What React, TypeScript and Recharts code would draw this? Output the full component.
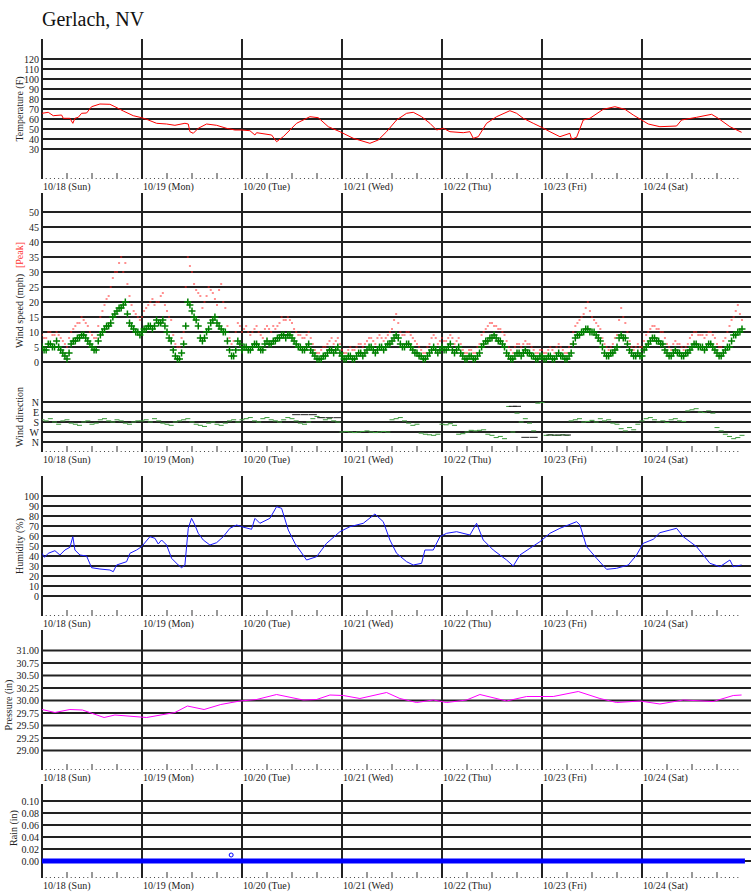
import React from 'react';
import { ComposedChart, Line, Scatter, XAxis, YAxis, ReferenceLine } from 'recharts';

const SERIF = '"Liberation Serif", "DejaVu Serif", "Times New Roman", serif';
const X_MAX = 170.16; // hours shown across the 709px plot width

// day columns
const dayLabels = ['10/18 (Sun)', '10/19 (Mon)', '10/20 (Tue)', '10/21 (Wed)', '10/22 (Thu)', '10/23 (Fri)', '10/24 (Sat)'];
const dayStarts = [0, 24, 48, 72, 96, 120, 144];
const hourTicks = Array.from({ length: 168 }, (_, i) => i);

// y ticks
const tempTicks = [30, 40, 50, 60, 70, 80, 90, 100, 110, 120];
const windTicks = [0, 5, 10, 15, 20, 25, 30, 35, 40, 45, 50];
const dirTickPos = [-13.3333, -16.6667, -20, -23.3333, -26.6667];
const dirTickLabels = ['N', 'E', 'S', 'W', 'N'];
const humTicks = [0, 10, 20, 30, 40, 50, 60, 70, 80, 90, 100];
const pressTicks = [29.0, 29.25, 29.5, 29.75, 30.0, 30.25, 30.5, 30.75, 31.0];
const rainTicks = [0, 0.02, 0.04, 0.06, 0.08, 0.1];

// [hour since 10/18 00:00, value]
const temperature: [number, number][] = [
  [0, 65.7], [1.5, 66.7], [2.7, 63.3], [4.7, 64], [5.1, 60.7], [6.7, 60.7], [7.4, 55.7], [7.9, 60.7], [8.7, 61.7],
  [9.5, 65.7], [10.7, 66], [11.9, 72.3], [13.9, 75], [16.3, 74.7], [17.5, 72.3], [19.5, 68], [21.9, 63.3], [23.9, 61.3],
  [25.1, 59.7], [27.5, 55.7], [29.9, 55], [31.9, 53.7], [34.3, 55.7], [35.1, 55], [35.5, 47.3], [36.3, 45.7], [37.5, 50.7],
  [39.5, 55], [41.9, 53.7], [44.3, 50.7], [46.3, 49], [47.9, 49], [49.9, 48.3], [51.1, 44], [51.5, 46.3], [55.1, 44],
  [56.3, 37.3], [57.9, 42.3], [61.1, 55.7], [64.3, 62.3], [66.3, 61.3], [68.7, 52.3], [71.5, 47.3], [74.7, 40.7],
  [78.7, 35.7], [80.7, 39], [82.7, 47.3], [85.1, 59], [87.5, 65.7], [89.1, 66.7], [91.1, 62.3], [93.1, 55.7], [94.7, 49],
  [96.3, 50.7], [97.9, 47.3], [101.1, 46.3], [102.7, 47.3], [103.5, 40.7], [104.7, 42.3], [106.7, 55.7], [109.1, 62.3],
  [112.3, 68.3], [113.9, 65.7], [115.5, 60.7], [117.9, 55.7], [119.9, 51.7], [121.9, 47.3], [124.3, 42.3], [126.7, 45.7],
  [127.1, 39.7], [128.3, 41.7], [129.9, 59], [131.5, 60.7], [134.7, 69.7], [137.5, 72.3], [139.9, 69.7], [141.9, 64],
  [143.9, 59], [145.5, 55], [148.3, 52.3], [152.3, 53], [153.5, 59], [157.1, 61.7], [160.7, 64.7], [162.3, 60.7],
  [165.1, 52.3], [167.9, 46.7],
];

const humidity: [number, number][] = [
  [0, 42.7], [0.6, 38.7], [1.5, 42.7], [3.1, 45.3], [4.3, 41], [5.5, 46], [6.7, 48.7], [7.4, 59.3], [7.9, 46], [9.1, 41],
  [10.7, 40], [11.9, 28.3], [13.9, 27], [16.3, 26], [17.1, 24.3], [17.9, 31], [20.3, 34.3], [21.1, 42.7], [22.7, 46],
  [23.9, 49.3], [25.9, 59.3], [27.1, 57.7], [27.9, 52], [28.7, 56], [29.9, 51], [31.1, 37.7], [32.7, 31], [33.5, 28.3],
  [34.3, 31], [35.1, 67.7], [35.9, 77.7], [36.7, 71], [37.5, 62.7], [38.7, 56], [40.3, 51], [41.9, 53.3], [43.5, 59.3],
  [45.1, 67.7], [46.7, 71], [47.9, 69.3], [50.3, 66.7], [51.1, 77.7], [52.3, 72.7], [54.7, 77.7], [56.3, 89.3],
  [57.5, 87.7], [59.1, 66], [60.7, 52.7], [63.5, 36], [65.9, 39.3], [68.3, 52.7], [71.5, 64.3], [73.9, 69.3],
  [77.1, 72.7], [79.9, 82], [81.9, 74.3], [83.5, 56], [85.1, 42.7], [87.5, 34.3], [89.1, 31], [91.1, 32.7], [91.9, 46],
  [93.9, 46], [95.5, 59.3], [97.1, 62.7], [99.5, 64.3], [102.7, 61], [104.3, 72.7], [105.9, 56], [108.3, 46],
  [111.5, 36], [113.1, 30], [114.7, 41], [117.1, 47.7], [119.5, 54.3], [121.9, 62.7], [124.3, 67.7], [128.3, 74.3],
  [129.1, 71], [130.7, 49.3], [133.1, 37.7], [135.5, 26.7], [137.9, 27.7], [140.7, 31], [142.7, 41], [144.3, 52.7],
  [146.7, 56.7], [148.3, 63.3], [152.3, 67.7], [153.9, 59.3], [157.1, 49.3], [160.3, 32.7], [162.7, 29.3], [165.1, 36],
  [165.9, 29.3], [167.9, 31],
];

const pressure: [number, number][] = [
  [0, 29.82], [3.1, 29.76], [6.7, 29.82], [9.7, 29.81], [14.9, 29.66], [17.5, 29.71], [25.1, 29.66], [31.9, 29.76],
  [34.9, 29.89], [38.9, 29.82], [42.9, 29.92], [47.5, 29.99], [51.5, 30.02], [56.3, 30.12], [62.7, 30.01], [65.9, 30.02],
  [69.1, 30.11], [72.3, 30.1], [76.3, 30.04], [82.7, 30.16], [85.9, 30.04], [89.9, 29.96], [93.9, 30.01], [97.1, 29.96],
  [101.9, 30.01], [105.1, 30.12], [111.5, 29.99], [116.3, 30.08], [122.7, 30.08], [128.7, 30.18], [133.9, 30.04],
  [137.9, 29.96], [143.5, 29.99], [148.3, 29.93], [153.9, 30.01], [161.1, 29.98], [165.9, 30.1], [167.9, 30.11],
];

// hourly wind, hour 0 .. 168
const windAvg = [
  5, 4, 6, 5, 5, 3, 1, 6, 7, 8, 9, 7, 5, 4, 9, 11, 12, 15, 17, 18, 20, 13, 11, 10,
  10, 11, 12, 12, 13, 14, 10, 7, 2, 1, 6, 20, 17, 14, 8, 8, 11, 14, 13, 11, 10, 4, 2, 7,
  4, 5, 4, 6, 5, 4, 7, 6, 7, 8, 9, 9, 8, 6, 5, 4, 6, 3, 1, 1, 2, 4, 3, 5,
  2, 1, 2, 1, 3, 2, 4, 5, 3, 5, 4, 6, 7, 9, 6, 5, 6, 4, 3, 2, 1, 3, 5, 3,
  5, 4, 6, 3, 5, 2, 1, 2, 1, 3, 6, 7, 8, 8, 7, 5, 2, 1, 3, 2, 4, 3, 2, 1,
  2, 1, 2, 1, 3, 2, 1, 3, 8, 9, 10, 11, 10, 9, 7, 3, 2, 3, 5, 9, 8, 4, 2, 3,
  2, 5, 7, 8, 7, 6, 3, 2, 4, 3, 2, 3, 5, 6, 5, 4, 6, 5, 3, 2, 4, 5, 9, 10, 11,
];
// readings taken on the half hour, hour 0.5 .. 167.5
const windAvgHalf = [
  4, 6, 5, 7, 4, 2, 3, 7, 8, 9, 8, 6, 4, 7, 10, 12, 13, 16, 18, 19, 16, 12, 10, 9,
  11, 12, 11, 14, 13, 12, 8, 4, 1, 3, 12, 19, 15, 12, 7, 10, 13, 15, 12, 10, 7, 2, 4, 6,
  5, 4, 5, 6, 4, 6, 6, 7, 8, 9, 8, 9, 7, 5, 4, 5, 4, 2, 1, 2, 3, 4, 4, 3,
  1, 2, 1, 2, 3, 3, 5, 4, 4, 5, 5, 6, 8, 8, 5, 6, 5, 3, 2, 1, 2, 4, 4, 4,
  4, 5, 4, 4, 3, 1, 2, 1, 2, 5, 7, 8, 9, 7, 6, 3, 1, 2, 3, 3, 3, 2, 1, 2,
  1, 2, 1, 2, 2, 1, 2, 6, 9, 10, 11, 10, 10, 8, 5, 2, 3, 4, 8, 8, 6, 3, 2, 2,
  4, 6, 8, 7, 6, 4, 2, 3, 3, 2, 3, 4, 6, 5, 5, 5, 6, 4, 2, 3, 5, 7, 9, 10,
];
const windPeak = [
  9, 8, 10, 9, 9, 7, 5, 10, 12, 13, 14, 12, 9, 8, 15, 19, 22, 28, 30, 35, 33, 22, 17, 15,
  15, 18, 20, 19, 20, 23, 17, 14, 6, 5, 10, 35, 30, 24, 22, 20, 25, 23, 19, 26, 18, 8, 7, 13,
  10, 12, 9, 11, 10, 8, 12, 10, 11, 13, 14, 15, 13, 10, 9, 8, 10, 6, 3, 4, 5, 7, 6, 8,
  4, 3, 5, 4, 6, 5, 7, 8, 6, 9, 7, 9, 11, 16, 10, 9, 10, 8, 6, 4, 3, 6, 9, 6,
  8, 7, 9, 6, 8, 4, 3, 4, 3, 6, 10, 12, 13, 12, 11, 9, 5, 3, 6, 5, 7, 6, 4, 3,
  4, 3, 5, 3, 6, 4, 3, 6, 12, 14, 16, 20, 15, 13, 11, 6, 4, 6, 9, 18, 13, 7, 4, 6,
  5, 9, 11, 12, 11, 10, 6, 4, 7, 6, 4, 6, 9, 10, 9, 8, 10, 9, 6, 5, 8, 12, 15, 19, 14,
];
const windPeakHalf = [
  8, 10, 9, 10, 8, 6, 8, 11, 13, 15, 13, 10, 8, 12, 17, 21, 25, 30, 33, 30, 26, 19, 16, 14,
  17, 19, 21, 20, 22, 19, 15, 9, 5, 8, 25, 32, 26, 23, 18, 22, 24, 21, 24, 20, 12, 6, 10, 12,
  11, 10, 10, 12, 9, 11, 11, 12, 12, 15, 14, 14, 11, 9, 8, 9, 8, 4, 3, 5, 6, 8, 7, 6,
  3, 4, 4, 5, 6, 6, 8, 7, 8, 8, 8, 10, 14, 13, 9, 10, 9, 7, 5, 3, 5, 8, 8, 7,
  7, 8, 8, 7, 6, 3, 4, 3, 5, 9, 11, 13, 12, 11, 10, 7, 4, 5, 6, 6, 6, 5, 3, 4,
  3, 4, 4, 5, 5, 3, 5, 10, 13, 15, 18, 17, 14, 12, 8, 5, 5, 8, 14, 15, 10, 5, 5, 5,
  7, 10, 12, 11, 10, 8, 5, 6, 6, 5, 5, 8, 10, 9, 9, 9, 10, 8, 5, 7, 10, 14, 17, 16,
];
// hourly wind direction, degrees
const windDir = [
  160, 170, 150, 180, 200, 170, 160, 190, 200, 210, 180, 170, 200, 190, 160, 150, 170, 180, 160, 170, 190, 200, 180, 170,
  170, 160, 180, 150, 170, 190, 200, 210, 180, 170, 160, 150, 180, 200, 210, 220, 190, 180, 200, 210, 190, 170, 160, 180,
  160, 150, 140, 170, 180, 150, 140, 160, 170, 180, 160, 140, 150, 170, 190, 200, 180, 150, 130, 140, 160, 150, 170, 180,
  270, 265, 270, 275, 270, 265, 260, 270, 275, 270, 265, 270, 160, 150, 140, 170, 190, 210, 200, 280, 290, 295, 300, 290,
  200, 205, 195, 210, 290, 285, 270, 255, 260, 255, 250, 290, 300, 320, 310, 330, 40, 270, 100, 180, 150, 190, 260, 10,
  5, 300, 295, 300, 300, 295, 300, 170, 160, 150, 180, 175, 165, 180, 150, 170, 160, 190, 200, 240, 260, 230, 250, 200,
  170, 150, 140, 160, 180, 170, 185, 160, 150, 170, 175, 80, 70, 60, 90, 95, 80, 100, 230, 260, 290, 310, 330, 320, 300,
];
const windDirGust: [number, number][] = [
  [61, 114], [63, 114], [65, 114], [67, 141], [69, 141], [71, 141], [113, 39], [114, 39], [116, 318], [118, 318],
  [122, 297], [124, 297], [126, 297], [148, 180], [160, 90],
];

const rain: [number, number][] = [[0, 0], [168.7, 0]];
const rainRate: [number, number][] = [[45.4, 0.01]];

const pts = (pairs: [number, number][]) => pairs.map(([t, v]) => ({ t, v }));
const hourly = (vals: number[], start = 0) => vals.map((v, i) => ({ t: start + i, v }));

const timeTick = (base: number) => (props: any) => {
  const { x, payload } = props;
  const h = payload.value as number;
  if (h % 24 === 0) {
    return (
      <text x={x + 1} y={base + 11} fontSize={10} fontFamily={SERIF} fill="#222">
        {dayLabels[h / 24]}
      </text>
    );
  }
  if (h % 6 === 0) return <line x1={x} x2={x} y1={base - 6} y2={base} stroke="#333" strokeWidth={1} />;
  return <rect x={x - 0.5} y={base - 1} width={1} height={1} fill="#444" />;
};

const PlusShape = (p: any) => (
  <path d={`M${p.cx - 3.5},${p.cy}h7M${p.cx},${p.cy - 3.5}v7`} stroke="#008000" strokeWidth={1.5} fill="none" />
);
const PeakShape = (p: any) => <rect x={p.cx - 1} y={p.cy - 0.5} width={2} height={1} fill="#ff2020" />;
const DirShape = (p: any) => <rect x={p.cx - 2.5} y={p.cy - 0.5} width={5} height={1} fill="#3a9a3a" />;
const GustDirShape = (p: any) => <rect x={p.cx - 4} y={p.cy - 0.5} width={8} height={1} fill="#222" />;
const RainDot = (p: any) => <circle cx={p.cx} cy={p.cy} r={2} fill="none" stroke="#0000ff" strokeWidth={1} />;

type PanelProps = {
  top: number;
  plotH: number;
  domain: [number, number];
  ticks: number[];
  fmt: (v: number) => string;
  data?: any[];
  children?: React.ReactNode;
};

const Panel = ({ top, plotH, domain, ticks, fmt, data, children }: PanelProps) => (
  <div style={{ position: 'absolute', left: 0, top }}>
    <ComposedChart width={751} height={plotH + 17} data={data} margin={{ top: 0, right: 0, bottom: 0, left: 0 }}>
      <XAxis
        type="number"
        dataKey="t"
        domain={[0, X_MAX]}
        ticks={hourTicks}
        interval={0}
        height={17}
        axisLine={false}
        tickLine={false}
        tickSize={0}
        tickMargin={0}
        tick={timeTick(plotH)}
        allowDataOverflow
      />
      <YAxis
        type="number"
        domain={domain}
        ticks={ticks}
        interval={0}
        width={42}
        axisLine={false}
        tickLine={false}
        tickSize={0}
        tickMargin={3}
        tickFormatter={fmt}
        tick={{ fontSize: 10, fill: '#222', fontFamily: SERIF }}
        allowDataOverflow
      />
      {ticks.map((v) => (
        <ReferenceLine key={'h' + v} y={v} stroke="#222" strokeWidth={2} />
      ))}
      {dayStarts.map((d) => (
        <ReferenceLine key={'d' + d} x={d} stroke="#222" strokeWidth={2} />
      ))}
      {children}
    </ComposedChart>
  </div>
);

const windFmt = (v: number) => {
  const i = dirTickPos.indexOf(v);
  return i >= 0 ? dirTickLabels[i] : String(v);
};

const axisTitles = [
  { text: 'Temperature (F)', x: 19, y: 109 },
  { text: 'Wind direction', x: 19, y: 417 },
  { text: 'Humidity (%)', x: 19, y: 546 },
  { text: 'Pressure (in)', x: 8.5, y: 705 },
  { text: 'Rain (in)', x: 13, y: 828 },
];

export default function App() {
  return (
    <div style={{ position: 'absolute', left: 0, top: 0, width: 751, height: 895, background: '#fff' }}>
      <Panel top={39} plotH={140} domain={[0, 140]} ticks={tempTicks} fmt={(v) => String(v)} data={pts(temperature)}>
        <Line type="linear" dataKey="v" stroke="#ff0000" strokeWidth={1} dot={false} activeDot={false} isAnimationActive={false} />
      </Panel>

      <Panel top={193} plotH={259} domain={[-30, 56.3333]} ticks={[...windTicks, ...dirTickPos]} fmt={windFmt}>
        <YAxis yAxisId="dir" type="number" hide reversed domain={[-1881, 450]} allowDataOverflow />
        <Scatter data={hourly(windPeak)} dataKey="v" shape={PeakShape} isAnimationActive={false} />
        <Scatter data={hourly(windPeakHalf, 0.5)} dataKey="v" shape={PeakShape} isAnimationActive={false} />
        <Scatter data={hourly(windAvg)} dataKey="v" shape={PlusShape} isAnimationActive={false} />
        <Scatter data={hourly(windAvgHalf, 0.5)} dataKey="v" shape={PlusShape} isAnimationActive={false} />
        <Scatter yAxisId="dir" data={hourly(windDir)} dataKey="v" shape={DirShape} isAnimationActive={false} />
        <Scatter yAxisId="dir" data={pts(windDirGust)} dataKey="v" shape={GustDirShape} isAnimationActive={false} />
      </Panel>

      <Panel top={476} plotH={140} domain={[-20, 120]} ticks={humTicks} fmt={(v) => String(v)} data={pts(humidity)}>
        <Line type="linear" dataKey="v" stroke="#1a1aff" strokeWidth={1} dot={false} activeDot={false} isAnimationActive={false} />
      </Panel>

      <Panel top={630} plotH={140} domain={[28.61, 31.41]} ticks={pressTicks} fmt={(v) => v.toFixed(2)} data={pts(pressure)}>
        <Line type="linear" dataKey="v" stroke="#ff00ff" strokeWidth={1} dot={false} activeDot={false} isAnimationActive={false} />
      </Panel>

      <Panel top={784} plotH={94} domain={[-0.028333, 0.128333]} ticks={rainTicks} fmt={(v) => v.toFixed(2)} data={pts(rain)}>
        <Line type="linear" dataKey="v" stroke="#0000ff" strokeWidth={5} dot={false} activeDot={false} isAnimationActive={false} />
        <Scatter data={pts(rainRate)} dataKey="v" shape={RainDot} isAnimationActive={false} />
      </Panel>

      <svg width={751} height={895} style={{ position: 'absolute', left: 0, top: 0, pointerEvents: 'none' }}>
        <text x={42} y={26} fontSize={20} fontFamily={SERIF} fill="#111">
          Gerlach, NV
        </text>
        {axisTitles.map((a) => (
          <text
            key={a.text}
            transform={`translate(${a.x},${a.y}) rotate(-90)`}
            textAnchor="middle"
            dominantBaseline="central"
            fontSize={10}
            fontFamily={SERIF}
            fill="#222"
          >
            {a.text}
          </text>
        ))}
        <text
          transform="translate(19,295) rotate(-90)"
          textAnchor="middle"
          dominantBaseline="central"
          fontSize={10}
          fontFamily={SERIF}
          fill="#222"
        >
          <tspan>Wind speed (mph)</tspan>
          <tspan dx={6} fill="#ff3030">[Peak]</tspan>
        </text>
      </svg>
    </div>
  );
}
